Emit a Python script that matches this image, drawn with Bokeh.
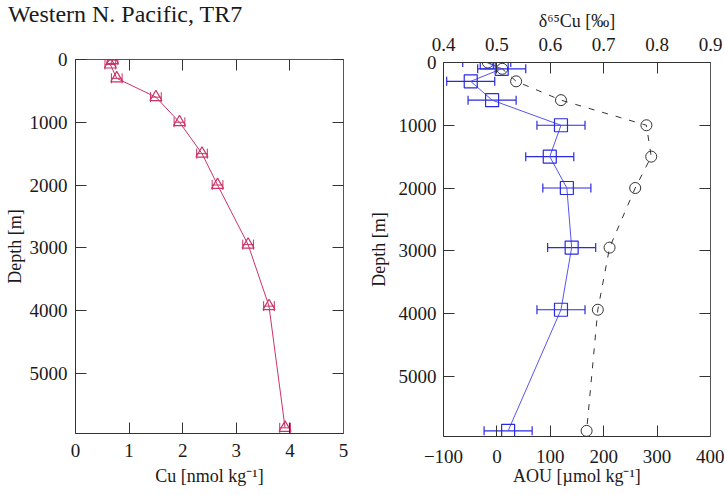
from bokeh.plotting import figure
from bokeh.models import (Range1d, LinearAxis, FixedTicker, Whisker, TeeHead,
                          ColumnDataSource, Div)
from bokeh.layouts import row, column
from bokeh.embed import file_html
from bokeh.resources import INLINE

# ---------------- data ----------------
cu_depth = [10, 80, 300, 600, 1000, 1500, 2000, 2950, 3930, 5870]
cu_conc = [0.69, 0.65, 0.77, 1.50, 1.94, 2.36, 2.65, 3.22, 3.61, 3.91]
cu_err = [0.1, 0.1, 0.1, 0.1, 0.1, 0.1, 0.1, 0.1, 0.1, 0.1]

st_depth = [0, 100, 300, 600, 1000, 1500, 2000, 2950, 3940, 5870]
aou = [-17, 10, 36, 120, 280, 289, 259, 211, 189, 168]
d65cu = [0.481, 0.509, 0.451, 0.491, 0.620, 0.599, 0.631, 0.640, 0.620, 0.521]
d65cu_err = [0.045, 0.045, 0.045, 0.045, 0.045, 0.045, 0.045, 0.045, 0.045, 0.045]

depth_ticks = [0, 1000, 2000, 3000, 4000, 5000]
cu_ticks = [0, 1, 2, 3, 4, 5]
aou_ticks = [-100, 0, 100, 200, 300, 400]
d65_ticks = [0.4, 0.5, 0.6, 0.7, 0.8, 0.9]

TITLE = "Western N. Pacific, TR7"
FONT = "Liberation Serif"
AXC = "#333333"
TXT = "#1a1a1a"
PINK = "#cc3366"
BLUE = "#2a2ae0"
BLUE_L = "#5555f0"
GREY = "#333333"
DEPTH_MAX = 5960
FH = 374


def style_axis(ax, ticks, standoff, label, label_standoff):
    ax.ticker = FixedTicker(ticks=ticks)
    ax.major_tick_in = 11
    ax.major_tick_out = 0
    ax.minor_tick_line_color = None
    ax.axis_line_color = AXC
    ax.major_tick_line_color = AXC
    ax.major_label_text_font = FONT
    ax.major_label_text_font_size = "19px"
    ax.major_label_text_color = TXT
    ax.major_label_standoff = standoff
    ax.axis_label = label
    ax.axis_label_text_font = FONT
    ax.axis_label_text_font_size = "18px"
    ax.axis_label_text_font_style = "normal"
    ax.axis_label_text_color = TXT
    ax.axis_label_standoff = label_standoff


def mirror_axis(p, ticks, side, **kw):
    ax = LinearAxis(ticker=FixedTicker(ticks=[], minor_ticks=ticks), **kw)
    ax.major_tick_line_color = None
    ax.minor_tick_in = 11
    ax.minor_tick_out = 0
    ax.minor_tick_line_color = AXC
    ax.axis_line_color = "#555555"
    p.add_layout(ax, side)


def base_fig(fw, xr, bl, br, bt, bb):
    p = figure(frame_width=fw, frame_height=FH, x_range=xr, y_range=Range1d(DEPTH_MAX, 0),
               output_backend="svg", toolbar_location=None,
               min_border_left=bl, min_border_right=br, min_border_top=bt, min_border_bottom=bb)
    p.grid.visible = False
    p.outline_line_color = None
    p.background_fill_color = "white"
    p.border_fill_color = "white"
    return p


# ---------------- title ----------------
title = Div(
    text=f'<div style="font-family:\'{FONT}\';font-size:24px;line-height:28px;'
         f'margin-left:8px;color:{TXT};white-space:nowrap">{TITLE}</div>',
    width=360, height=28, margin=0)

# ---------------- left panel ----------------
p1 = base_fig(268, Range1d(0, 5), 75, 17, 31, 62)
style_axis(p1.xaxis[0], cu_ticks, 10, "Cu [nmol kg\u207b\u00b9]", 6)
style_axis(p1.yaxis[0], depth_ticks, 8, "Depth [m]", 2)
mirror_axis(p1, depth_ticks, "right")
mirror_axis(p1, cu_ticks, "above")

src1 = ColumnDataSource(dict(
    x=cu_conc, y=cu_depth,
    lo=[c - e for c, e in zip(cu_conc, cu_err)],
    hi=[c + e for c, e in zip(cu_conc, cu_err)],
))
p1.line("x", "y", source=src1, line_color=PINK, line_width=1)
p1.add_layout(Whisker(source=src1, base="y", lower="lo", upper="hi", dimension="width",
                      line_color=PINK, line_width=1,
                      upper_head=TeeHead(size=10, line_color=PINK, line_width=1),
                      lower_head=TeeHead(size=10, line_color=PINK, line_width=1)))
p1.scatter("x", "y", source=src1, marker="triangle", size=12, fill_color=None,
           line_color=PINK, line_width=1.2)

# ---------------- right panel ----------------
p2 = base_fig(267, Range1d(-100, 400), 83, 14, 62, 59)
p2.extra_x_ranges = {"d65": Range1d(0.4, 0.9)}

style_axis(p2.xaxis[0], aou_ticks, 13, "AOU [\u00b5mol kg\u207b\u00b9]", 0)
style_axis(p2.yaxis[0], depth_ticks, 7, "Depth [m]", 7)
mirror_axis(p2, depth_ticks, "right")
top = LinearAxis(x_range_name="d65")
style_axis(top, d65_ticks, 12, "\u03b4\u2076\u2075Cu [\u2030]", 4)
p2.add_layout(top, "above")

src2 = ColumnDataSource(dict(
    aou=aou, d=d65cu, y=st_depth,
    lo=[c - e for c, e in zip(d65cu, d65cu_err)],
    hi=[c + e for c, e in zip(d65cu, d65cu_err)],
))
p2.line("aou", "y", source=src2, line_color=GREY, line_width=1, line_dash="6 8")
p2.scatter("aou", "y", source=src2, marker="circle", size=11, fill_color=None,
           line_color=GREY, line_width=1)

p2.line("d", "y", source=src2, x_range_name="d65", line_color=BLUE_L, line_width=1)
p2.add_layout(Whisker(source=src2, base="y", lower="lo", upper="hi", dimension="width",
                      x_range_name="d65", line_color=BLUE, line_width=1.2,
                      upper_head=TeeHead(size=9, line_color=BLUE, line_width=1.2),
                      lower_head=TeeHead(size=9, line_color=BLUE, line_width=1.2)))
p2.scatter("d", "y", source=src2, x_range_name="d65", marker="square", size=13,
           fill_color=None, line_color=BLUE, line_width=1.2)

layout = row(column(title, p1), p2)
open("out.html", "w").write(file_html(layout, INLINE))
